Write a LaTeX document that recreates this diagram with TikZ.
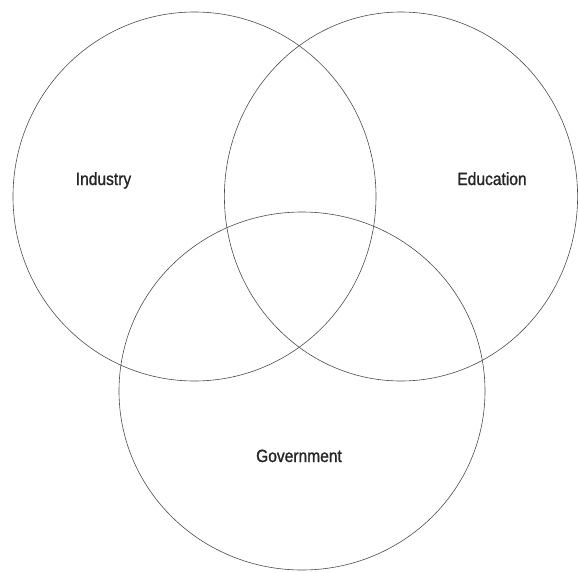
\documentclass[tikz,border=0pt]{standalone}
\usepackage{fontspec}
\setmainfont{Liberation Sans}[FakeStretch=0.88, FakeBold=1.2]
\begin{document}
\begin{tikzpicture}[x=1pt,y=-1pt,
  setline/.style={draw=black!70, line width=0.6pt},
  setlabel/.style={anchor=base, inner sep=0pt, font=\fontsize{17.7}{20}\selectfont, text=black!85}]
  \useasboundingbox (0,0) rectangle (579,573);
  % set centres
  \coordinate (cI) at (194.5,196.5);
  \coordinate (cE) at (401,196.5);
  \coordinate (cG) at (302,391);
  % the three overlapping sets
  \draw[setline] (cI) ellipse [x radius=181.5, y radius=184.5];
  \draw[setline] (cE) ellipse [x radius=176.6, y radius=184.5];
  \draw[setline] (cG) ellipse [x radius=183, y radius=179];
  % set names
  \node[setlabel] (industry) at (103.5,185) {Industry};
  \node[setlabel] (education) at (492,185) {Education};
  \node[setlabel] (government) at (299,462) {Government};
\end{tikzpicture}
\end{document}
